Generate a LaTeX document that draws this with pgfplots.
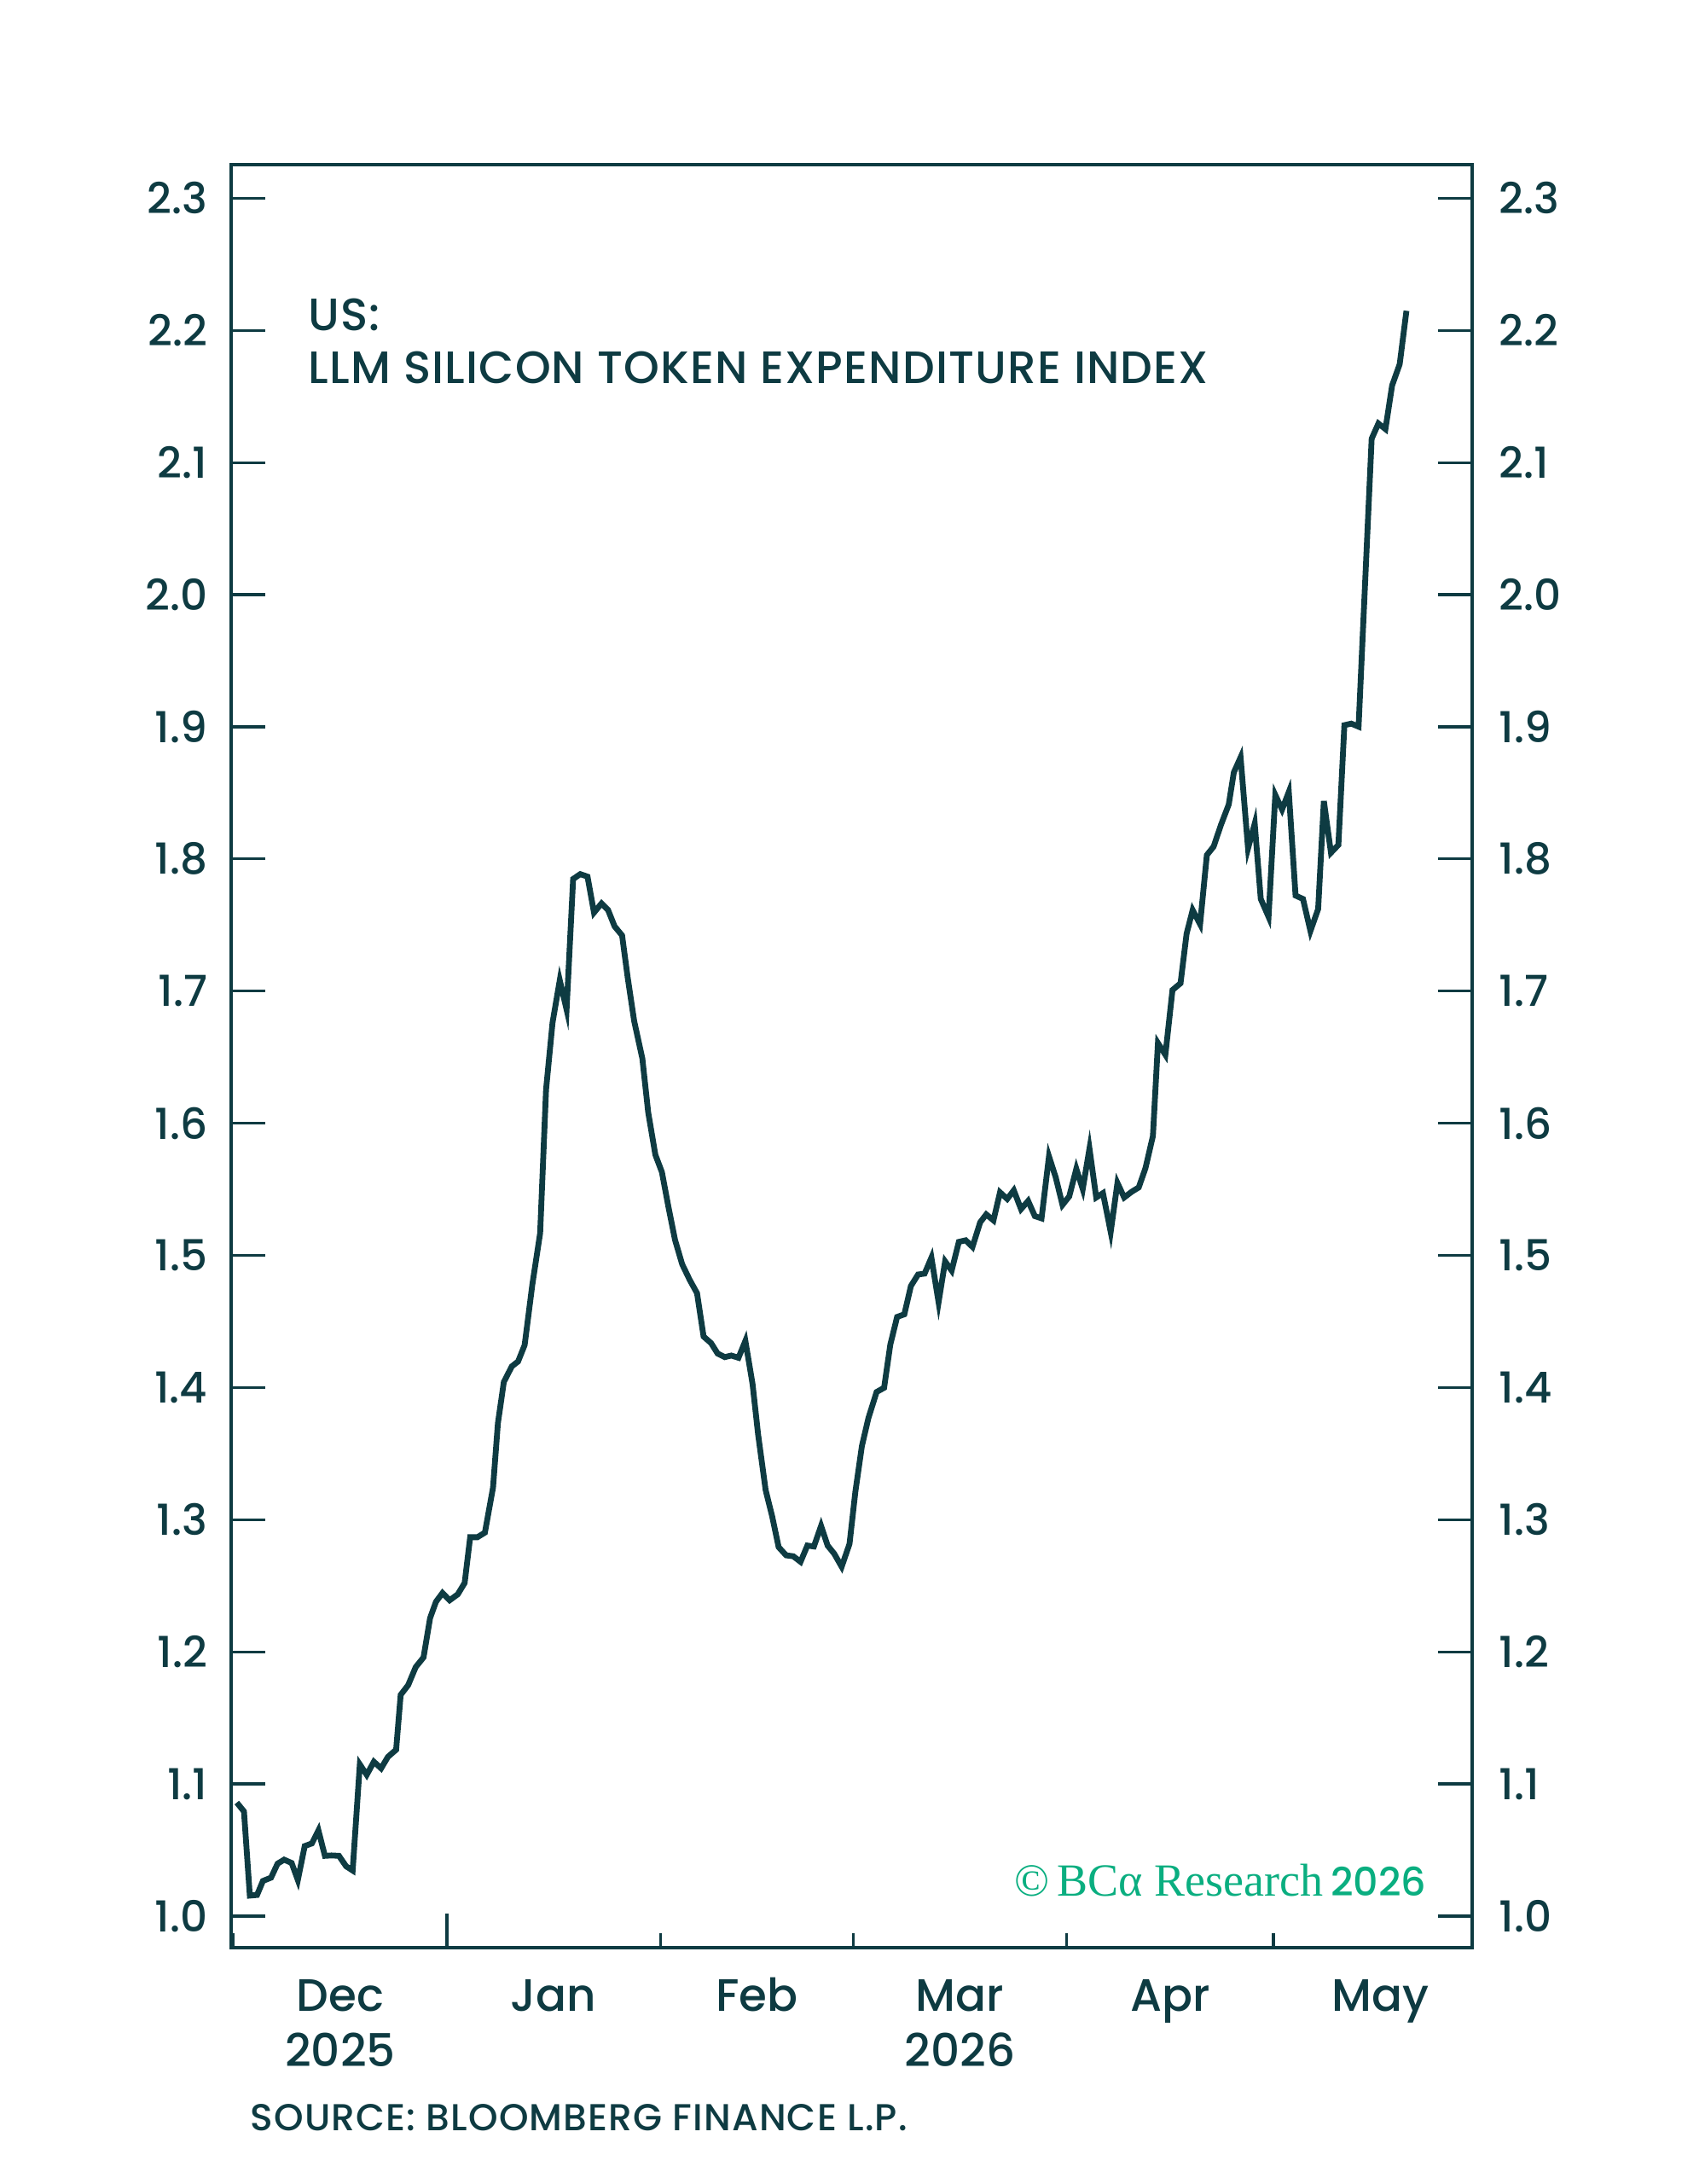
\documentclass[border=0pt]{standalone}
\usepackage{fontspec}
\setmainfont{Poppins}[UprightFont={* Medium}]
\newfontfamily\serifbca{Liberation Serif}
\usepackage{pgfplots}
\pgfplotsset{compat=1.18}
\definecolor{dk}{HTML}{0E3B42}
\definecolor{bcagreen}{HTML}{0AAE80}

\pgfplotstableread{
day val
0.49 1.0859
1.53 1.0792
2.38 1.0155
3.43 1.0160
4.28 1.0266
5.46 1.0291
6.41 1.0397
7.36 1.0427
8.45 1.0402
9.35 1.0273
10.35 1.0530
11.39 1.0550
12.34 1.0649
13.28 1.0456
14.23 1.0459
15.32 1.0456
16.36 1.0377
17.31 1.0345
18.35 1.1148
19.35 1.1069
20.39 1.1168
21.44 1.1118
22.43 1.1205
23.62 1.1259
24.28 1.1674
25.37 1.1748
26.46 1.1884
27.60 1.1958
28.55 1.2255
29.40 1.2378
30.35 1.2445
31.39 1.2390
32.57 1.2435
33.57 1.2521
34.37 1.2867
35.42 1.2867
36.51 1.2902
37.69 1.3243
38.40 1.3730
39.26 1.4042
40.42 1.4160
41.33 1.4197
42.28 1.4321
43.40 1.4780
44.53 1.5168
45.39 1.6255
46.33 1.6761
47.38 1.7082
48.37 1.6860
49.32 1.7848
50.36 1.7885
51.41 1.7866
52.35 1.7594
53.44 1.7663
54.39 1.7614
55.34 1.7490
56.43 1.7421
57.23 1.7107
58.18 1.6774
59.37 1.6490
60.22 1.6082
61.26 1.5761
62.21 1.5630
63.16 1.5366
64.11 1.5118
65.15 1.4933
66.24 1.4815
67.31 1.4714
68.26 1.4386
69.35 1.4336
70.30 1.4257
71.34 1.4230
72.29 1.4242
73.33 1.4225
74.33 1.4353
75.37 1.4027
76.18 1.3644
77.27 1.3224
78.21 1.3027
79.16 1.2792
80.25 1.2730
81.29 1.2723
82.34 1.2681
83.33 1.2804
84.28 1.2797
85.32 1.2953
86.27 1.2804
87.22 1.2743
88.31 1.2644
89.45 1.2817
90.30 1.3212
91.25 1.3558
92.19 1.3768
93.38 1.3966
94.47 1.3998
95.37 1.4324
96.36 1.4534
97.41 1.4554
98.36 1.4768
99.40 1.4855
100.35 1.4862
101.34 1.4983
102.38 1.4645
103.33 1.4954
104.28 1.4885
105.32 1.5102
106.32 1.5114
107.30 1.5064
108.42 1.5250
109.30 1.5310
110.35 1.5265
111.30 1.5477
112.35 1.5427
113.30 1.5492
114.35 1.5350
115.38 1.5412
116.36 1.5297
117.33 1.5280
118.41 1.5749
119.39 1.5590
120.37 1.5382
121.35 1.5446
122.38 1.5655
123.31 1.5502
124.29 1.5808
125.27 1.5438
126.25 1.5471
127.37 1.5177
128.35 1.5548
129.33 1.5438
130.41 1.5481
131.44 1.5514
132.42 1.5660
133.50 1.5903
134.23 1.6607
135.31 1.6518
136.34 1.7008
137.51 1.7059
138.39 1.7434
139.27 1.7613
140.35 1.7506
141.33 1.8029
142.31 1.8093
143.39 1.8259
144.51 1.8412
145.25 1.8655
146.23 1.8769
147.31 1.8080
148.28 1.8267
149.16 1.7697
150.29 1.7562
151.27 1.8484
152.25 1.8374
153.23 1.8507
154.21 1.7723
155.29 1.7697
156.37 1.7455
157.49 1.7621
158.32 1.8438
159.35 1.8047
160.43 1.8106
161.30 1.9012
162.30 1.9024
163.36 1.9001
165.26 2.1180
166.24 2.1295
167.26 2.1253
168.23 2.1583
169.33 2.1744
170.31 2.2148
}\datatable

\pgfplotsset{
  basebox/.style={
    scale only axis, width=363.75pt, height=522.5pt,
    at={(0,0)}, anchor=south west,
    xmin=-0.334, xmax=179.85, ymin=0.9761, ymax=2.3254,
    tick align=inside,
    /pgf/number format/assume math mode=true,
    major tick style={dk, line width=0.8pt},
  },
}

\begin{document}
\begin{tikzpicture}
\useasboundingbox (-67.75pt,-69.25pt) rectangle (432pt,570.75pt);

% main axis: box, y ticks both sides, left labels, Jan tick
\begin{axis}[basebox,
  axis line style={dk, line width=0.85pt},
  major tick length=9.9pt,
  xtick=\empty,
  extra x ticks={31}, extra x tick labels={},
  xtick pos=left,
  ytick={1.0,1.1,1.2,1.3,1.4,1.5,1.6,1.7,1.8,1.9,2.0,2.1,2.2,2.3},
  ytick pos=both,
  yticklabel pos=left,
  yticklabel={\pgfmathprintnumber[fixed,fixed zerofill,precision=1]{\tick}},
  yticklabel style={font=\fontsize{12.5}{15}\selectfont, text=dk, inner sep=0pt, anchor=east, xshift=-6.75pt},
]
\addplot[dk, line width=1.7pt, line cap=butt, line join=miter, mark=none] table[x=day, y=val] {\datatable};
\end{axis}

% month-start ticks
\begin{axis}[basebox,
  axis line style={draw=none},
  major tick length=4.2pt,
  xtick={0,62,90,121,151}, xticklabels={},
  xtick pos=left,
  ytick=\empty,
]
\end{axis}

% month labels and right-hand y labels
\begin{axis}[basebox,
  axis line style={draw=none},
  major tick length=0pt,
  major tick style={draw=none},
  xtick={15.5,46.5,76,105.5,136,166.5},
  xticklabels={Dec,Jan,Feb,Mar,Apr,May},
  xtick pos=left,
  xticklabel style={font=\fontsize{13.3}{16}\selectfont, text=dk, inner sep=0pt, anchor=base, yshift=-18.5pt},
  ytick={1.0,1.1,1.2,1.3,1.4,1.5,1.6,1.7,1.8,1.9,2.0,2.1,2.2,2.3},
  ytick pos=right,
  yticklabel pos=right,
  yticklabel={\pgfmathprintnumber[fixed,fixed zerofill,precision=1]{\tick}},
  yticklabel style={font=\fontsize{12.5}{15}\selectfont, text=dk, inner sep=0pt, anchor=west, xshift=7.75pt},
]
\end{axis}

% year labels
\node[anchor=base, inner sep=0pt, text=dk, font=\fontsize{13.3}{16}\selectfont] at (32.0pt,-34.75pt) {2025};
\node[anchor=base, inner sep=0pt, text=dk, font=\fontsize{13.3}{16}\selectfont] at (213.6pt,-34.75pt) {2026};

% title
\node[anchor=base west, inner sep=0pt, text=dk, font=\fontsize{13.3}{16}\selectfont\addfontfeature{LetterSpace=2.2}] at (22.5pt,473.75pt) {US:};
\node[anchor=base west, inner sep=0pt, text=dk, font=\fontsize{13.3}{16}\selectfont\addfontfeature{LetterSpace=2.2}] at (22.5pt,458.25pt) {LLM SILICON TOKEN EXPENDITURE INDEX};

% copyright
\node[anchor=base east, inner sep=0pt, text=bcagreen, font=\fontsize{13.3}{16}\selectfont] at (350.5pt,15.25pt) {{\serifbca\fontsize{13.5}{16}\selectfont ©\,BCα Research}\,{\fontsize{11.5}{14}\selectfont 2026}};

% source
\node[anchor=base west, inner sep=0pt, text=dk, font=\fontsize{11}{13}\selectfont\addfontfeature{LetterSpace=2.5}] at (5.5pt,-53.5pt) {SOURCE: BLOOMBERG FINANCE L.P.};
\end{tikzpicture}
\end{document}
